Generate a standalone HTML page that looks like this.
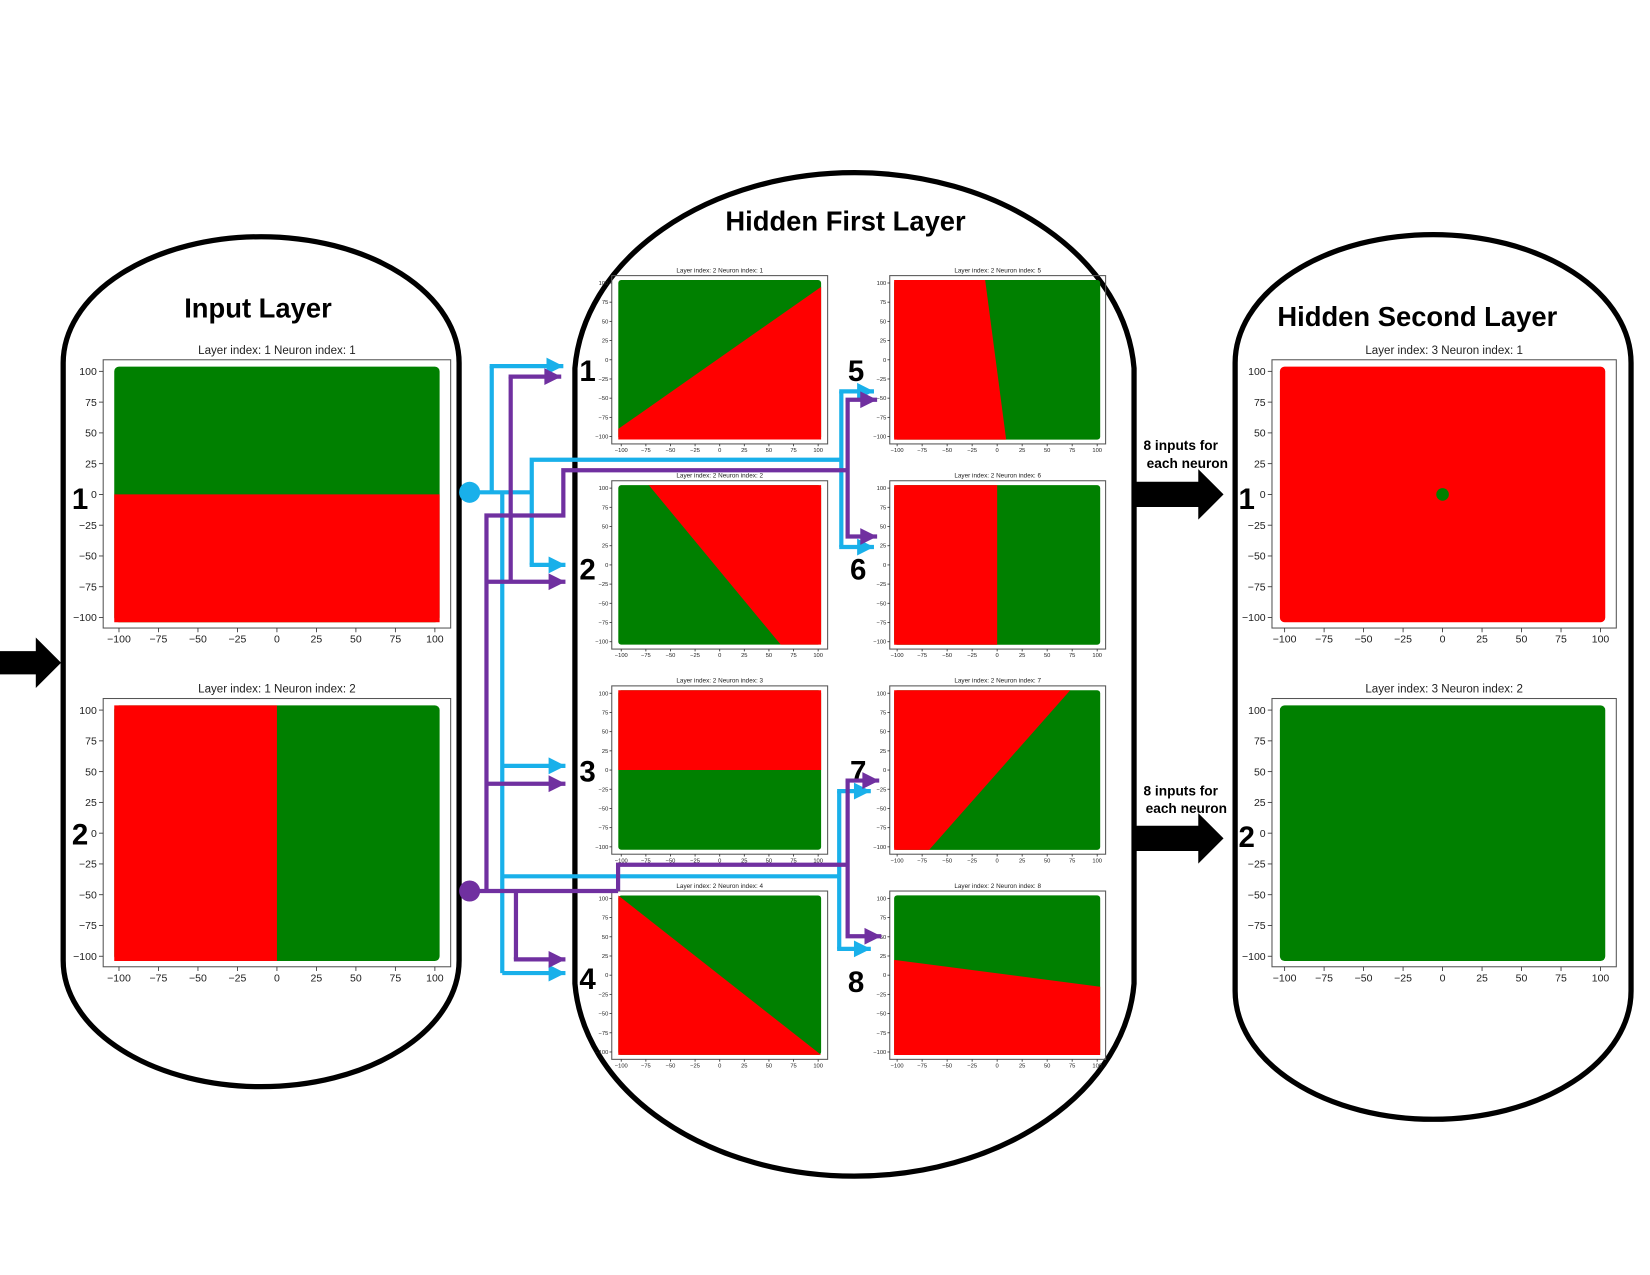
<!DOCTYPE html>
<html><head><meta charset="utf-8"><style>
html,body{margin:0;padding:0;background:#fff;}
svg{display:block;}
text{font-family:"Liberation Sans",sans-serif;}
</style></head><body>
<svg id="fig" xmlns="http://www.w3.org/2000/svg" width="1650" height="1275" viewBox="0 0 1567 1212" preserveAspectRatio="none">
<rect x="0" y="0" width="1567" height="1212" fill="#fff"/>
<g><path d="M60,345 A188,120 0 0 1 436,345 L436,913 A188,120 0 0 1 60,913 Z" fill="none" stroke="#000" stroke-width="5"/></g>
<g><path d="M546,350 A266,198 0 0 1 1077,350 L1077,935 A266,195 0 0 1 546,935 Z" fill="none" stroke="#000" stroke-width="5"/></g>
<g><path d="M1173,345 A188,122 0 0 1 1549,345 L1549,942 A188,122 0 0 1 1173,942 Z" fill="none" stroke="#000" stroke-width="5"/></g>
<text x="245" y="302" text-anchor="middle" font-size="26" font-weight="bold">Input Layer</text>
<text x="803" y="219" text-anchor="middle" font-size="26" font-weight="bold">Hidden First Layer</text>
<text x="1346" y="310" text-anchor="middle" font-size="26" font-weight="bold">Hidden Second Layer</text>
<g><polygon points="0,619 34,619 34,606 58,630 34,654 34,641 0,641" fill="#000"/></g>
<g><polygon points="1078,458 1138,458 1138,446 1162,470 1138,494 1138,482 1078,482" fill="#000"/></g>
<g><polygon points="1076,785 1138,785 1138,773 1162,797 1138,821 1138,809 1076,809" fill="#000"/></g>
<text font-size="13" font-weight="bold"><tspan x="1086" y="428">8 inputs for</tspan><tspan x="1089" y="445">each neuron</tspan></text>
<text font-size="13" font-weight="bold"><tspan x="1086" y="756">8 inputs for</tspan><tspan x="1088" y="773">each neuron</tspan></text>
<g id="plots"></g>
<g id="wires"></g>
</svg>
<script>
// Input layer (layer 1): decision boundary endpoints and a point on the red side
const inBx1=[-100,0], inBy1=[0,100], inBx2=[100,0], inBy2=[0,-100];
const inRedX=[0,-100], inRedY=[-100,0];
// Hidden first layer (layer 2) boundaries
const hBx1=[-100,-72,-100,-100,-12,0,-68,-100];
const hBy1=[-90,100,0,100,100,100,-100,20];
const hBx2=[100,62,100,100,9,0,73,100];
const hBy2=[95,-100,0,-100,-100,-100,100,-15];
const hRedX=[100,100,0,-100,-100,-100,-100,0];
const hRedY=[-100,100,100,-100,0,0,100,-100];
// Hidden second layer (layer 3): uniform class per neuron, plus isolated points
const outClass=['red','green'];
const outPtX=[0], outPtY=[0];
const ticks=[-100,-75,-50,-25,0,25,50,75,100];
const RED='#ff0000', GREEN='#008000';

const NS='http://www.w3.org/2000/svg';
const plots=document.getElementById('plots');
function el(tag,attrs,parent){const e=document.createElementNS(NS,tag);for(const k in attrs)e.setAttribute(k,attrs[k]);(parent||plots).appendChild(e);return e;}

function clipHalf(x1,y1,x2,y2,rx,ry){
  const f=(x,y)=>(x2-x1)*(y-y1)-(y2-y1)*(x-x1);
  const s=Math.sign(f(rx,ry));
  const sq=[[-100,-100],[100,-100],[100,100],[-100,100]];
  const out=[];
  for(let i=0;i<4;i++){
    const a=sq[i],b=sq[(i+1)%4];
    const fa=f(a[0],a[1])*s, fb=f(b[0],b[1])*s;
    if(fa>=0) out.push(a);
    if((fa>=0)!==(fb>=0)){const t=fa/(fa-fb);out.push([a[0]+t*(b[0]-a[0]),a[1]+t*(b[1]-a[1])]);}
  }
  return out;
}

function makePlot(name,title,fx,fy,fw,fh,dx0,dx1,dy0,dy1,fs,fill,poly){
  const g=el('g',{});
  
  
  const sx=v=>dx0+(v+100)/200*(dx1-dx0);
  const sy=v=>dy1-(v+100)/200*(dy1-dy0);
  const pad=(dx1-dx0)*0.015;
  const bg=el('rect',{x:dx0-pad,y:dy0-pad,width:dx1-dx0+2*pad,height:dy1-dy0+2*pad,fill:fill,rx:pad},g);
  
  
  if(poly){
    const pts=poly.map(p=>{let x=sx(p[0]),y=sy(p[1]);x+=(p[0]<=-100?-pad:p[0]>=100?pad:0);y+=(p[1]>=100?-pad:p[1]<=-100?pad:0);return x+','+y;}).join(' ');
    const pg=el('polygon',{points:pts,fill:RED},g);
    
    
  }
  const fr=el('rect',{x:fx,y:fy,width:fw,height:fh,fill:'none',stroke:'#555','stroke-width':1},g);
  
  
  const tt=el('text',{x:fx+fw/2,y:fy-fs*0.55,'text-anchor':'middle','font-size':fs*1.1,fill:'#222'},g);
  tt.textContent=title;
  
  
  ticks.forEach(t=>{
    const yl=el('text',{x:fx-fs*0.6,y:sy(t)+fs*0.35,'text-anchor':'end','font-size':fs,fill:'#222'},g);
    yl.textContent=t<0?'\u2212'+(-t):String(t);
    
    
    const xl=el('text',{x:sx(t),y:fy+fh+fs*1.4,'text-anchor':'middle','font-size':fs,fill:'#222'},g);
    xl.textContent=t<0?'\u2212'+(-t):String(t);
    
    
    el('line',{x1:fx-fs*0.4,x2:fx,y1:sy(t),y2:sy(t),stroke:'#333','stroke-width':0.8},g);
    el('line',{x1:sx(t),x2:sx(t),y1:fy+fh,y2:fy+fh+fs*0.4,stroke:'#333','stroke-width':0.8},g);
  });
  return {g,sx,sy};
}

// input layer
const inTop=[342,664];
for(let i=0;i<2;i++){
  const fy=inTop[i];
  makePlot('input-neuron-'+(i+1)+'-plot','Layer index: 1 Neuron index: '+(i+1),98,fy,330,255,113,413,fy+11,fy+245,10,GREEN,
    clipHalf(inBx1[i],inBy1[i],inBx2[i],inBy2[i],inRedX[i],inRedY[i]));
}
// hidden first layer
const rowTop=[262,457,652,847];
for(let i=0;i<8;i++){
  const col=i<4?0:1,row=i%4;
  const fx=col?845:581, fy=rowTop[row];
  const dx0=col?852:590, dx1=col?1042:777;
  makePlot('hidden1-neuron-'+(i+1)+'-plot','Layer index: 2 Neuron index: '+(i+1),fx,fy,205,160,dx0,dx1,fy+7,fy+153,5.5,GREEN,
    clipHalf(hBx1[i],hBy1[i],hBx2[i],hBy2[i],hRedX[i],hRedY[i]));
}
// hidden second layer
for(let i=0;i<2;i++){
  const fy=inTop[i];
  const p=makePlot('hidden2-neuron-'+(i+1)+'-plot','Layer index: 3 Neuron index: '+(i+1),1208,fy,327,255,1220,1520,fy+11,fy+245,10,outClass[i]==='red'?RED:GREEN,null);
  if(i===0){outPtX.forEach((x,k)=>{const c=el('circle',{cx:p.sx(x),cy:p.sy(outPtY[k]),r:6,fill:GREEN},p.g);});}
}

// neuron number labels
const nums=[[76,474,'1'],[76,793,'2'],[558,352,'1'],[558,541,'2'],[558,733,'3'],[558,930,'4'],[813,352,'5'],[815,541,'6'],[815,733,'7'],[813,933,'8'],[1184,474,'1'],[1184,795,'2']];
nums.forEach(n=>{const t=el('text',{x:n[0],y:n[1]+10,'text-anchor':'middle','font-size':28,'font-weight':'bold'});t.textContent=n[2];});

// wires
const wires=document.getElementById('wires');
const BLUE='#19b0ea',PURP='#7030a0';
function wire(pts,col,arrow){
  const p=el('polyline',{points:pts.map(q=>q.join(',')).join(' '),fill:'none',stroke:col,'stroke-width':4},wires);
  
  
  if(arrow){const [x,y]=pts[pts.length-1];const a=el('polygon',{points:`${x},${y} ${x-16},${y-8} ${x-16},${y+8}`,fill:col},wires);}
}
function arr(x1,y,x2,col){wire([[x1,y],[x2,y]],col,true);}
// blue
wire([[446,468],[505,468]],BLUE);
wire([[467,468],[467,348]],BLUE);arr(465,348,535,BLUE);
wire([[477,468],[477,925]],BLUE);arr(477,728,537,BLUE);arr(477,925,537,BLUE);
wire([[505,537],[505,437],[799,437]],BLUE);arr(503,537,537,BLUE);
wire([[799,372],[799,520]],BLUE);arr(797,372,830,BLUE);arr(797,520,830,BLUE);
wire([[477,833],[797,833]],BLUE);
wire([[797,752],[797,902]],BLUE);arr(795,752,827,BLUE);arr(795,902,827,BLUE);
// purple
wire([[446,847],[587,847]],PURP);
wire([[462,847],[462,490],[535,490],[535,447],[805,447]],PURP);
wire([[485,553],[485,358]],PURP);arr(483,358,533,PURP);
arr(462,553,537,PURP);arr(462,745,537,PURP);
wire([[490,847],[490,912]],PURP);arr(488,912,537,PURP);
wire([[805,380],[805,510]],PURP);arr(803,380,833,PURP);arr(803,510,833,PURP);
wire([[587,847],[587,822],[805,822]],PURP);
wire([[805,742],[805,890]],PURP);arr(803,742,835,PURP);arr(803,890,837,PURP);
[[446,468,BLUE,'input-1-node'],[446,847,PURP,'input-2-node']].forEach(d=>{const c=el('circle',{cx:d[0],cy:d[1],r:10,fill:d[2]},wires);});
</script>
</body></html>
